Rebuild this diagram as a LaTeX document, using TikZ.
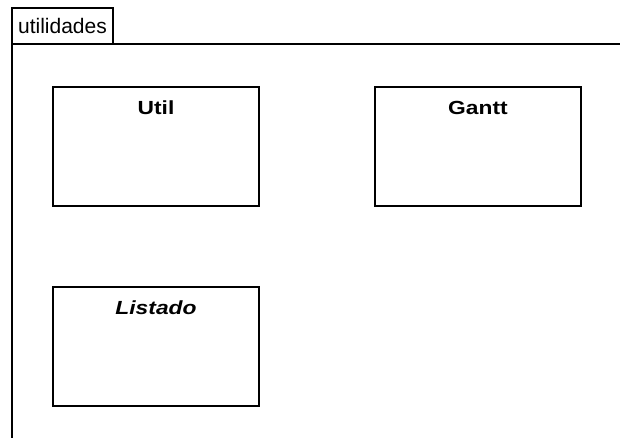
\documentclass[tikz,border=0pt]{standalone}
\usepackage{fontspec}
\setmainfont{Liberation Sans}
\usepackage{graphicx}
\usepackage{tikz}
\usetikzlibrary{positioning}
\newcommand{\stretchname}[1]{\scalebox{1.2}[1]{#1}}

\begin{document}
\begin{tikzpicture}[
  x=1pt, y=1pt,
  node distance=81pt and 116pt,
  classbox/.style={draw, line width=1.4pt, outer sep=0pt, inner sep=0pt,
                   minimum width=206pt, minimum height=119pt},
  classname/.style={anchor=north, inner sep=0pt, yshift=-14pt,
                    font=\fontsize{19}{19}\selectfont\bfseries},
  pkgline/.style={line width=1.4pt}
]
\useasboundingbox (0,0) rectangle (620,438);
% package tab and frame
\node[draw, line width=1.4pt, anchor=north west, inner sep=0pt, outer sep=0pt,
      minimum width=101pt, minimum height=36pt,
      font=\fontsize{21}{21}\selectfont] (pkgtab) at (12,430) {utilidades};
\draw[pkgline] (pkgtab.south east) -- (620,394);
\draw[pkgline] (pkgtab.south west) -- (12,0);
% classes
\node[classbox, anchor=north west, label={[classname]north:\stretchname{Util}}] (util) at (53,351) {};
\node[classbox, right=of util, label={[classname]north:\stretchname{Gantt}}] (gantt) {};
\node[classbox, below=of util, label={[classname, font=\fontsize{19}{19}\selectfont\bfseries\itshape]north:\stretchname{Listado}}] (listado) {};
\end{tikzpicture}
\end{document}
